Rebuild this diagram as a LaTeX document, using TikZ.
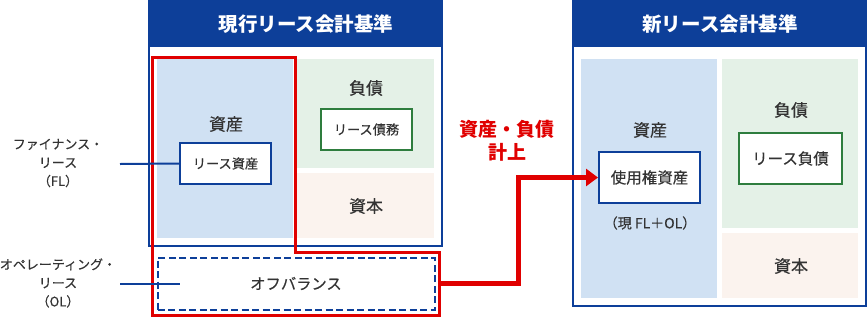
\documentclass[tikz,border=0pt]{standalone}
\usepackage{fontspec}
\setmainfont{Noto Sans CJK JP}
\newfontfamily\medfont{Noto Sans CJK JP}[FakeBold=0.35]
\usetikzlibrary{arrows.meta}
\definecolor{hdblue}{HTML}{0D3F99}
\definecolor{asfill}{HTML}{D0E1F3}
\definecolor{lbfill}{HTML}{E4F1E7}
\definecolor{cpfill}{HTML}{FBF3EE}
\definecolor{lbgreen}{HTML}{2E7D3E}
\definecolor{upred}{HTML}{E00000}
\definecolor{txtgray}{HTML}{333333}

\begin{document}
\begin{tikzpicture}[x=1pt,y=-1pt,
    hdtext/.style={text=white,font=\bfseries\fontsize{19.5}{20}\selectfont},
    cattext/.style={text=txtgray,font=\medfont\fontsize{17}{18}\selectfont},
    sidetext/.style={text=txtgray,align=center,font=\medfont\fontsize{13}{18.5}\selectfont},
    accbox/.style={draw=#1,line width=2pt,fill=white,text=txtgray,inner sep=0pt},
    accbox/.default=hdblue]
  \useasboundingbox (0,0) rectangle (868,317);

  % current standard
  \fill[hdblue] (148,0) rectangle (443,47);
  \draw[hdblue,line width=2pt] (149,1) rectangle (442,246);
  \node[hdtext] (curHd) at (306,24) {現行リース会計基準};
  \fill[asfill] (157,59) rectangle (293,238);
  \fill[lbfill] (297,59) rectangle (434,168);
  \fill[cpfill] (297,173) rectangle (434,238);
  \node[cattext] (curAs) at (226,124) {資産};
  \node[cattext] (curLb) at (366,88) {負債};
  \node[cattext] (curCp) at (366,206) {資本};
  \node[accbox,minimum width=91pt,minimum height=41pt,
    font=\medfont\fontsize{13.2}{15}\selectfont] (flAs) at (225.5,163.5) {リース資産};
  \node[accbox=lbgreen,minimum width=91pt,minimum height=41pt,
    font=\medfont\fontsize{13.2}{15}\selectfont] (flLb) at (366.5,129.5) {リース債務};
  \draw[upred,line width=3pt] (152,57) -- (295,57) -- (295,252) -- (439,252)
    -- (439,315) -- (152,315) -- cycle;
  \node[draw=hdblue,line width=2pt,dash pattern=on 7pt off 3.5pt,
    minimum width=277pt,minimum height=52pt,text=txtgray,
    font=\medfont\fontsize{15.3}{17}\selectfont] (offBs) at (296,283.5) {オフバランス};

  % lease types
  \node[sidetext] (flTxt) at (58,163) {ファイナンス・\\リース\\（FL）};
  \node[sidetext] (olTxt) at (58,283) {オペレーティング・\\リース\\（OL）};
  \coordinate (flStart) at (120,164);
  \coordinate (olStart) at (120,284);
  \coordinate (olEnd) at (180,284);
  \draw[hdblue,line width=2pt] (flStart) -- (flAs.west);
  \draw[hdblue,line width=2pt] (olStart) -- (olEnd);

  % new standard
  \fill[hdblue] (572,0) rectangle (867,47);
  \draw[hdblue,line width=2pt] (573,1) rectangle (866,306);
  \node[hdtext] (newHd) at (720,24) {新リース会計基準};
  \fill[asfill] (581,59) rectangle (717,298);
  \fill[lbfill] (722,59) rectangle (858,228);
  \fill[cpfill] (722,233) rectangle (858,298);
  \node[cattext] (newAs) at (650,130) {資産};
  \node[cattext] (newLb) at (791,110) {負債};
  \node[cattext] (newCp) at (791,266) {資本};
  \node[accbox,minimum width=101pt,minimum height=51pt,
    font=\medfont\fontsize{15.5}{17}\selectfont] (rouAs) at (649.5,177.5) {使用権資産};
  \node[accbox=lbgreen,minimum width=103pt,minimum height=51pt,
    font=\medfont\fontsize{15.5}{17}\selectfont] (newLbBox) at (790.5,158.5) {リース負債};
  \node[text=txtgray,font=\medfont\fontsize{14}{16}\selectfont] (rouNote) at (650,223)
    {（現 FL＋OL）};

  % recognition arrow
  \coordinate (redOut) at (439,283);
  \draw[upred,line width=5pt,-{Triangle[length=12pt,width=17pt]}]
    (redOut) -- (518,283) |- (rouAs.west);
  \node[text=upred,align=center,font=\bfseries\fontsize{19}{23}\selectfont]
    (upTxt) at (507,141) {資産・負債\\計上};
\end{tikzpicture}
\end{document}
